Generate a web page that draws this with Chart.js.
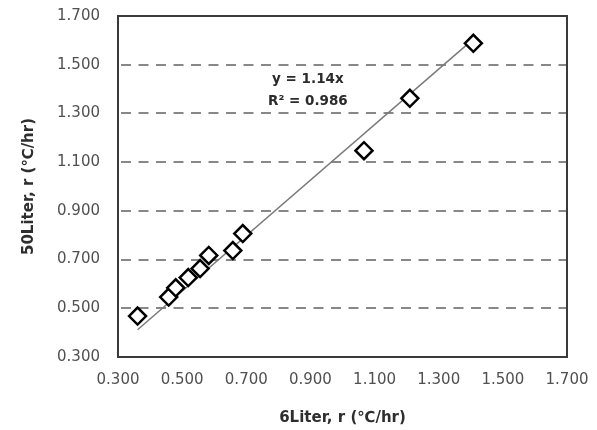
<!DOCTYPE html>
<html>
<head>
<meta charset="utf-8">
<script src="https://cdn.jsdelivr.net/npm/chart.js@4.4.1/dist/chart.umd.min.js"></script>
<style>
  html, body { margin: 0; padding: 0; background: #ffffff; }
  #wrap { width: 597px; height: 430px; position: relative; }
</style>
</head>
<body>
<div id="wrap"><canvas id="c" width="597" height="430"></canvas></div>
<script>
// ---- data ----
const x6Liter  = [0.361, 0.458, 0.480, 0.519, 0.556, 0.583, 0.658, 0.689, 1.067, 1.210, 1.408];
const y50Liter = [0.468, 0.546, 0.584, 0.626, 0.663, 0.717, 0.737, 0.807, 1.147, 1.362, 1.588];
const trendX = [0.361, 1.408];
const trendY = [0.412, 1.605];
const tickValues = [0.3, 0.5, 0.7, 0.9, 1.1, 1.3, 1.5, 1.7];
const xTitle = '6Liter, r (℃/hr)';
const yTitle = '50Liter, r (℃/hr)';
const eqLines = ['y = 1.14x', 'R² = 0.986'];

const FONT = "'DejaVu Sans', 'Open Sans', sans-serif";

const scatterData = x6Liter.map((v, i) => ({ x: v, y: y50Liter[i] }));
const trendData = trendX.map((v, i) => ({ x: v, y: trendY[i] }));

const boxPlugin = {
  id: 'boxPlugin',
  afterDatasetsDraw(chart) {
    const { ctx, chartArea: a, scales } = chart;
    ctx.save();
    ctx.strokeStyle = '#3a3a3a';
    ctx.lineWidth = 2;
    ctx.strokeRect(a.left, a.top, a.right - a.left, a.bottom - a.top);
    // equation label anchored in data space
    ctx.fillStyle = '#2b2b2b';
    ctx.font = 'bold 13.5px ' + FONT;
    ctx.textAlign = 'center';
    ctx.textBaseline = 'middle';
    const cx = scales.x.getPixelForValue(0.892);
    ctx.fillText(eqLines[0], cx, scales.y.getPixelForValue(1.441));
    ctx.fillText(eqLines[1], cx, scales.y.getPixelForValue(1.351));
    ctx.restore();
  }
};

new Chart(document.getElementById('c'), {
  type: 'scatter',
  data: {
    datasets: [
      {
        label: 'data',
        data: scatterData,
        order: 0,
        pointStyle: 'rectRot',
        pointRadius: 8.5,
        pointHoverRadius: 8.5,
        pointBackgroundColor: '#ffffff',
        pointBorderColor: '#000000',
        pointBorderWidth: 2.5,
        showLine: false
      },
      {
        label: 'trend',
        type: 'line',
        data: trendData,
        order: 1,
        borderColor: '#7a7a7a',
        borderWidth: 1.5,
        pointRadius: 0,
        fill: false,
        tension: 0
      }
    ]
  },
  options: {
    responsive: false,
    animation: false,
    devicePixelRatio: 1,
    layout: { padding: { left: 0, top: 16, right: 30, bottom: 0 } },
    plugins: { legend: { display: false }, tooltip: { enabled: false } },
    scales: {
      x: {
        type: 'linear',
        min: 0.3, max: 1.7,
        afterBuildTicks: (s) => { s.ticks = tickValues.map(v => ({ value: v })); },
        afterFit: (s) => { s.height = 73; s.paddingLeft = 0; s.paddingRight = 0; },
        grid: { display: false, drawTicks: false },
        border: { display: false },
        ticks: {
          padding: 14,
          color: '#505050',
          font: { family: FONT, size: 15 },
          maxRotation: 0,
          callback: (v) => Number(v).toFixed(3)
        },
        title: {
          display: true,
          text: xTitle,
          color: '#2e2e2e',
          font: { family: FONT, size: 15, weight: 'bold' },
          padding: { top: 4, bottom: 3 }
        }
      },
      y: {
        type: 'linear',
        min: 0.3, max: 1.7,
        afterBuildTicks: (s) => { s.ticks = tickValues.map(v => ({ value: v })); },
        afterFit: (s) => { s.width = 118; s.paddingTop = 0; s.paddingBottom = 0; },
        grid: {
          drawTicks: false,
          lineWidth: 2,
          color: (c) => (c.tick && (c.tick.value <= 0.31 || c.tick.value >= 1.69)) ? 'rgba(0,0,0,0)' : '#888888'
        },
        border: { display: false, dash: [10, 7.5], dashOffset: -3 },
        ticks: {
          padding: 18,
          color: '#505050',
          font: { family: FONT, size: 15 },
          callback: (v) => Number(v).toFixed(3)
        },
        title: {
          display: true,
          text: yTitle,
          color: '#2e2e2e',
          font: { family: FONT, size: 15, weight: 'bold' },
          padding: { top: 20, bottom: 4 }
        }
      }
    }
  },
  plugins: [boxPlugin]
});
</script>
</body>
</html>
